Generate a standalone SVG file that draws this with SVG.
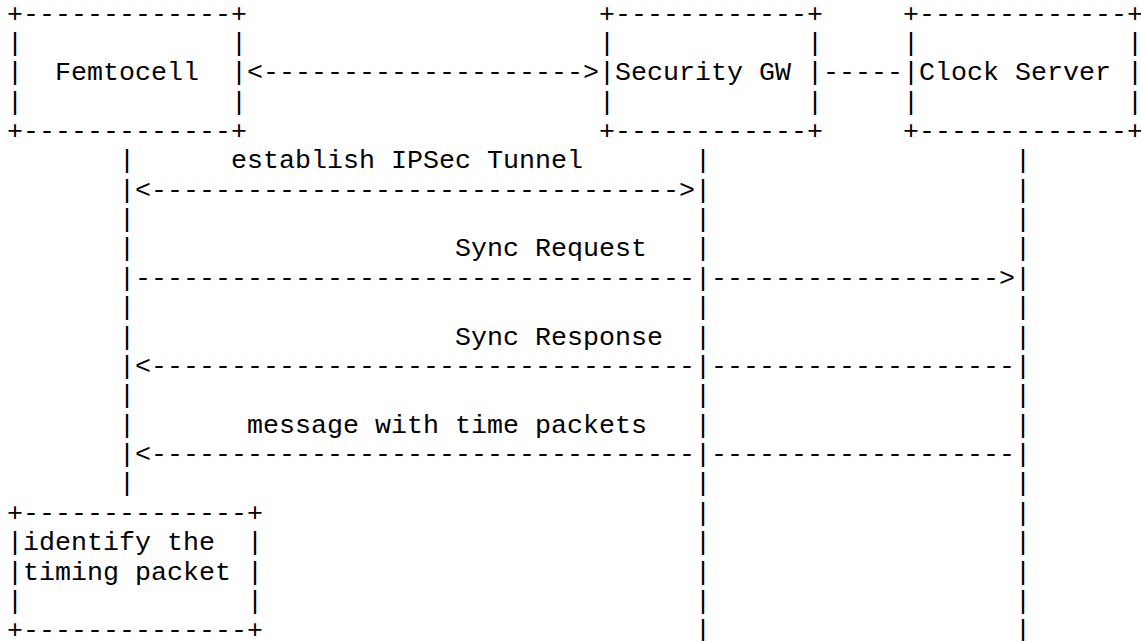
<svg xmlns="http://www.w3.org/2000/svg" width="1141" height="641" viewBox="0 0 1141 641">
<style>
text { font-family: "Liberation Mono", "DejaVu Sans Mono", monospace; font-size: 26.67px; fill: #000; white-space: pre; }
</style>
<rect width="1141" height="641" fill="#fff"/>
<g id="node-femtocell">
<text xml:space="preserve"><tspan x="7" y="21.5">+-------------+</tspan><tspan x="7" y="50.87">|             |</tspan><tspan x="7" y="80.24">|  Femtocell  |</tspan><tspan x="7" y="109.61">|             |</tspan><tspan x="7" y="138.98">+-------------+</tspan></text>
</g>
<g id="node-security-gw">
<text xml:space="preserve"><tspan x="599" y="21.5">+------------+</tspan><tspan x="599" y="50.87">|            |</tspan><tspan x="599" y="80.24">|Security GW |</tspan><tspan x="599" y="109.61">|            |</tspan><tspan x="599" y="138.98">+------------+</tspan></text>
</g>
<g id="node-clock-server">
<text xml:space="preserve"><tspan x="903" y="21.5">+-------------+</tspan><tspan x="903" y="50.87">|             |</tspan><tspan x="903" y="80.24">|Clock Server |</tspan><tspan x="903" y="109.61">|             |</tspan><tspan x="903" y="138.98">+-------------+</tspan></text>
</g>
<g id="node-identify">
<text xml:space="preserve"><tspan x="7" y="520.79">+--------------+</tspan><tspan x="7" y="550.16">|identify the  |</tspan><tspan x="7" y="579.53">|timing packet |</tspan><tspan x="7" y="608.9">|              |</tspan><tspan x="7" y="638.27">+--------------+</tspan></text>
</g>
<g id="connectors">
<text x="247" y="80.24">&lt;--------------------&gt;</text>
<text x="823" y="80.24">-----</text>
<text id="lifeline-femtocell"><tspan x="119" y="168.35">|</tspan><tspan x="119" y="197.72">|</tspan><tspan x="119" y="227.09">|</tspan><tspan x="119" y="256.46">|</tspan><tspan x="119" y="285.83">|</tspan><tspan x="119" y="315.2">|</tspan><tspan x="119" y="344.57">|</tspan><tspan x="119" y="373.94">|</tspan><tspan x="119" y="403.31">|</tspan><tspan x="119" y="432.68">|</tspan><tspan x="119" y="462.05">|</tspan><tspan x="119" y="491.42">|</tspan></text>
<text id="lifeline-security-gw"><tspan x="695" y="168.35">|</tspan><tspan x="695" y="197.72">|</tspan><tspan x="695" y="227.09">|</tspan><tspan x="695" y="256.46">|</tspan><tspan x="695" y="285.83">|</tspan><tspan x="695" y="315.2">|</tspan><tspan x="695" y="344.57">|</tspan><tspan x="695" y="373.94">|</tspan><tspan x="695" y="403.31">|</tspan><tspan x="695" y="432.68">|</tspan><tspan x="695" y="462.05">|</tspan><tspan x="695" y="491.42">|</tspan><tspan x="695" y="520.79">|</tspan><tspan x="695" y="550.16">|</tspan><tspan x="695" y="579.53">|</tspan><tspan x="695" y="608.9">|</tspan><tspan x="695" y="638.27">|</tspan></text>
<text id="lifeline-clock-server"><tspan x="1015" y="168.35">|</tspan><tspan x="1015" y="197.72">|</tspan><tspan x="1015" y="227.09">|</tspan><tspan x="1015" y="256.46">|</tspan><tspan x="1015" y="285.83">|</tspan><tspan x="1015" y="315.2">|</tspan><tspan x="1015" y="344.57">|</tspan><tspan x="1015" y="373.94">|</tspan><tspan x="1015" y="403.31">|</tspan><tspan x="1015" y="432.68">|</tspan><tspan x="1015" y="462.05">|</tspan><tspan x="1015" y="491.42">|</tspan><tspan x="1015" y="520.79">|</tspan><tspan x="1015" y="550.16">|</tspan><tspan x="1015" y="579.53">|</tspan><tspan x="1015" y="608.9">|</tspan><tspan x="1015" y="638.27">|</tspan></text>
<text x="231" y="168.35">establish IPSec Tunnel</text>
<text x="135" y="197.72">&lt;---------------------------------&gt;</text>
<text x="455" y="256.46">Sync Request</text>
<text x="135" y="285.83">-----------------------------------</text>
<text x="711" y="285.83">------------------&gt;</text>
<text x="455" y="344.57">Sync Response</text>
<text x="135" y="373.94">&lt;----------------------------------</text>
<text x="711" y="373.94">-------------------</text>
<text x="247" y="432.68">message with time packets</text>
<text x="135" y="462.05">&lt;----------------------------------</text>
<text x="711" y="462.05">-------------------</text>
</g>
</svg>
